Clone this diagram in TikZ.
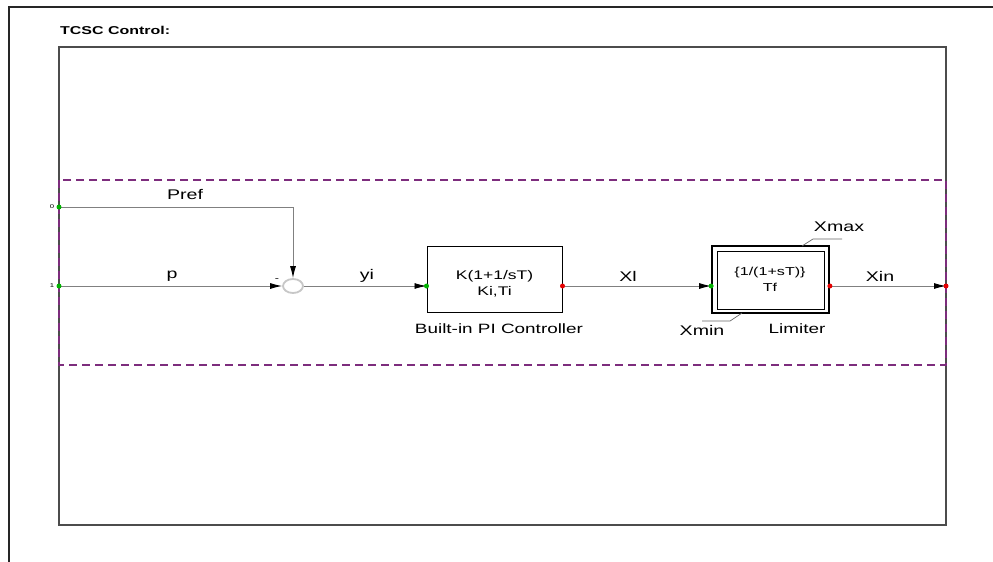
\documentclass[tikz,border=0pt]{standalone}
\usepackage{fontspec}
\setmainfont[FakeStretch=1.4]{Liberation Sans}
\usetikzlibrary{arrows.meta,shapes.geometric}
\begin{document}
\begin{tikzpicture}[x=1pt,y=-1pt,
  wire/.style={draw=black!50,line width=0.9pt},
  sig/.style={wire,-{Latex[length=12pt,width=6pt,black]}},
  lbl/.style={font=\fontsize{14}{14}\selectfont,inner sep=0pt},
  sublbl/.style={font=\fontsize{13.5}{13.5}\selectfont,inner sep=0pt},
  boxtxt/.style={font=\fontsize{12.5}{12.5}\selectfont,inner sep=0pt},
  gdot/.style={circle,fill=green!70!black,inner sep=0pt,minimum size=5pt},
  rdot/.style={circle,fill=red!90!black,inner sep=0pt,minimum size=5pt},
  portlbl/.style={font=\fontsize{5.5}{5.5}\selectfont,inner sep=0pt}
]
\useasboundingbox (0,0) rectangle (993,562);
\fill[white] (0,0) rectangle (993,562);
% outer frame
\draw[black!85,line width=1.3pt] (9,562) -- (9,7) -- (993,7);
% title
\node[anchor=west,font=\bfseries\fontsize{11.4}{11.4}\selectfont,inner sep=0pt] (title) at (60,30) {TCSC Control:};
% inner rectangle
\draw[black!70,line width=1.3pt] (59,47) rectangle (946,525);
% dashed subsystem
\draw[draw={rgb,255:red,125;green,45;blue,125},line width=1.3pt,dash pattern=on 8pt off 5pt] (59,180) rectangle (946,365);

% ports
\coordinate (in0) at (59,207);
\coordinate (in1) at (59,286);
\coordinate (out) at (946,286);
\node[portlbl] (l0) at (52,207) {0};
\node[portlbl] (l1) at (52,286) {1};

% summing junction
\node[ellipse,draw=black!22,line width=1.8pt,minimum width=20pt,minimum height=14pt,inner sep=0pt] (sum) at (293,286) {};
\coordinate (bend) at (293,207);

% PI block
\node[draw=black,line width=1pt,minimum width=135pt,minimum height=66pt,inner sep=0pt] (pi) at (494.5,279) {};
\node[boxtxt] (pit1) at (494.5,276) {K(1+1/sT)};
\node[boxtxt] (pit2) at (494.5,292) {Ki,Ti};
\node[sublbl] (pilbl) at (499,329) {Built-in PI Controller};

% Limiter block
\node[draw=black,line width=1.8pt,minimum width=117pt,minimum height=67pt,inner sep=0pt] (lim) at (770.5,279.5) {};
\node[draw=black,line width=0.9pt,minimum width=107pt,minimum height=58pt,inner sep=0pt] (liminner) at (770.5,280) {};
\node[font=\fontsize{11.5}{11.5}\selectfont,inner sep=0pt] (limt1) at (770,273) {\{1/(1+sT)\}};
\node[font=\fontsize{11.5}{11.5}\selectfont,inner sep=0pt] (limt2) at (770,287) {Tf};
\node[sublbl] (limlbl) at (797,329) {Limiter};
\node[lbl] (xmax) at (839,227) {Xmax};
\node[lbl] (xmin) at (702,330) {Xmin};
\coordinate (xmaxa) at (802,246);
\coordinate (xmaxb) at (813,239);
\coordinate (xmaxc) at (842,239);
\coordinate (xmina) at (742,313);
\coordinate (xminb) at (730,321);
\coordinate (xminc) at (702,321);
\draw[black!60,line width=0.7pt] (xmaxa) -- (xmaxb) -- (xmaxc);
\draw[black!60,line width=0.7pt] (xmina) -- (xminb) -- (xminc);

% connectors
\draw[sig] (in0) -- (bend) -- (sum.north);
\draw[sig] (in1) -- (sum.west);
\draw[sig] (sum.east) -- (pi.west |- sum.east);
\coordinate (piout) at (pi.east |- sum.east);
\coordinate (limin) at (lim.west |- sum.east);
\coordinate (limout) at (lim.east |- sum.east);
\draw[sig] (piout) -- (limin);
\draw[sig] (limout) -- (out);

% signal labels
\node[lbl] (pref) at (185,195) {Pref};
\node[lbl] (plbl) at (172,276) {p};
\node[font=\fontsize{9}{9}\selectfont,inner sep=0pt] (minus) at (277,280) {-};
\node[lbl] (yi) at (367,276) {yi};
\node[lbl] (xl) at (628,276) {Xl};
\node[lbl] (xin) at (880,276) {Xin};

% port dots
\node[gdot] (d0) at (in0) {};
\node[gdot] (d1) at (in1) {};
\node[gdot] (d2) at (pi.west |- sum.east) {};
\node[gdot] (d3) at (limin) {};
\node[rdot] (d4) at (piout) {};
\node[rdot] (d5) at (limout) {};
\node[rdot] (d6) at (out) {};
\end{tikzpicture}
\end{document}
